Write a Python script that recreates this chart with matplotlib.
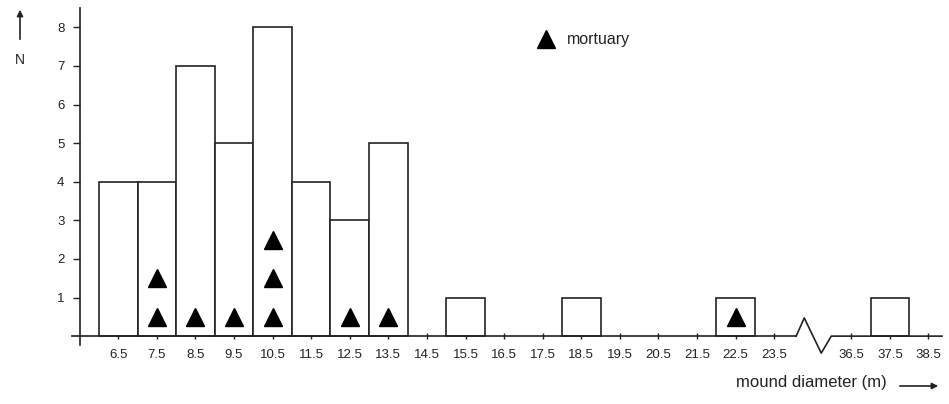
import matplotlib
matplotlib.use("Agg")
import matplotlib.pyplot as plt

plt.rcParams["font.family"] = ["Liberation Sans", "DejaVu Sans"]

# mound diameter classes (m) and counts
diameters = [6.5, 7.5, 8.5, 9.5, 10.5, 11.5, 12.5, 13.5, 14.5, 15.5, 16.5, 17.5,
             18.5, 19.5, 20.5, 21.5, 22.5, 23.5, 36.5, 37.5, 38.5]
counts = [4, 4, 7, 5, 8, 4, 3, 5, 0, 1, 0, 0, 1, 0, 0, 0, 1, 0, 0, 1, 0]
# number of mortuary mounds per class
mortuary = [0, 2, 1, 1, 3, 0, 1, 1, 0, 0, 0, 0, 0, 0, 0, 0, 1, 0, 0, 0, 0]
tick_labels = [str(d) for d in diameters]

# axis break: values from 36 up are shifted left by this amount
break_shift = 11.0


def xpos(d):
    return d - break_shift if d > 30 else d


ink = "#222222"
fig = plt.figure(figsize=(9.49, 4.04), dpi=100)
ax = fig.add_axes([72 / 949, 1 - 345 / 404, 870 / 949, 337 / 404])
ax.set_xlim(5.3, 38.85 - break_shift)
ax.set_ylim(-0.23, 8.5)

xs = [xpos(d) for d in diameters]
for x, c in zip(xs, counts):
    if c > 0:
        ax.bar(x, c, width=1.0, facecolor="white", edgecolor=ink, linewidth=1.2, zorder=2)

# mortuary triangles stacked in each bar
for x, m in zip(xs, mortuary):
    for k in range(m):
        ax.plot(x, k + 0.5, marker="^", color="black", markersize=13, zorder=3)

# spines
for s in ["top", "right"]:
    ax.spines[s].set_visible(False)
ax.spines["left"].set_position(("data", 5.5))
ax.spines["left"].set_bounds(-0.23, 8.5)
ax.spines["bottom"].set_position(("data", 0))
ax.spines["bottom"].set_bounds(5.3, 24.07)
for s in ["left", "bottom"]:
    ax.spines[s].set_color(ink)
    ax.spines[s].set_linewidth(1.2)

# break zig-zag and rest of the x axis
ax.plot([24.07, 24.28, 24.72, 24.98, 38.85 - break_shift], [0, 0.47, -0.44, 0, 0],
        color=ink, linewidth=1.2, clip_on=False, zorder=2)

ax.set_yticks(range(1, 9))
ax.set_xticks(xs)
ax.set_xticklabels(tick_labels)
ax.tick_params(axis="y", direction="out", length=5, width=1, colors=ink, labelsize=9.5, pad=6)
ax.tick_params(axis="x", direction="inout", length=4, width=1, colors=ink, labelsize=9.5, pad=7)

# N arrow on the left
fig.patches.append(matplotlib.patches.FancyArrowPatch(
    (20 / 949, 1 - 42 / 404), (20 / 949, 1 - 7 / 404), transform=fig.transFigure,
    arrowstyle="-|>", mutation_scale=9, color=ink, linewidth=1.2))
fig.text(20 / 949, 1 - 60 / 404, "N", ha="center", va="center", fontsize=10, color=ink)

# x label with arrow
fig.text(887 / 949, 1 - 383 / 404, "mound diameter (m)", ha="right", va="center",
         fontsize=12, color=ink)
fig.patches.append(matplotlib.patches.FancyArrowPatch(
    (897 / 949, 1 - 386 / 404), (941 / 949, 1 - 386 / 404), transform=fig.transFigure,
    arrowstyle="-|>", mutation_scale=9, color=ink, linewidth=1.2))

# legend
ax.plot([], [], marker="^", color="black", markersize=13, linestyle="none", label="mortuary")
ax.legend(loc="upper left", bbox_to_anchor=(452 / 870, 1 - 18 / 337), frameon=False,
          fontsize=11.5, handletextpad=0.3, borderaxespad=0, labelcolor=ink)

fig.savefig("out.png", dpi=100)
